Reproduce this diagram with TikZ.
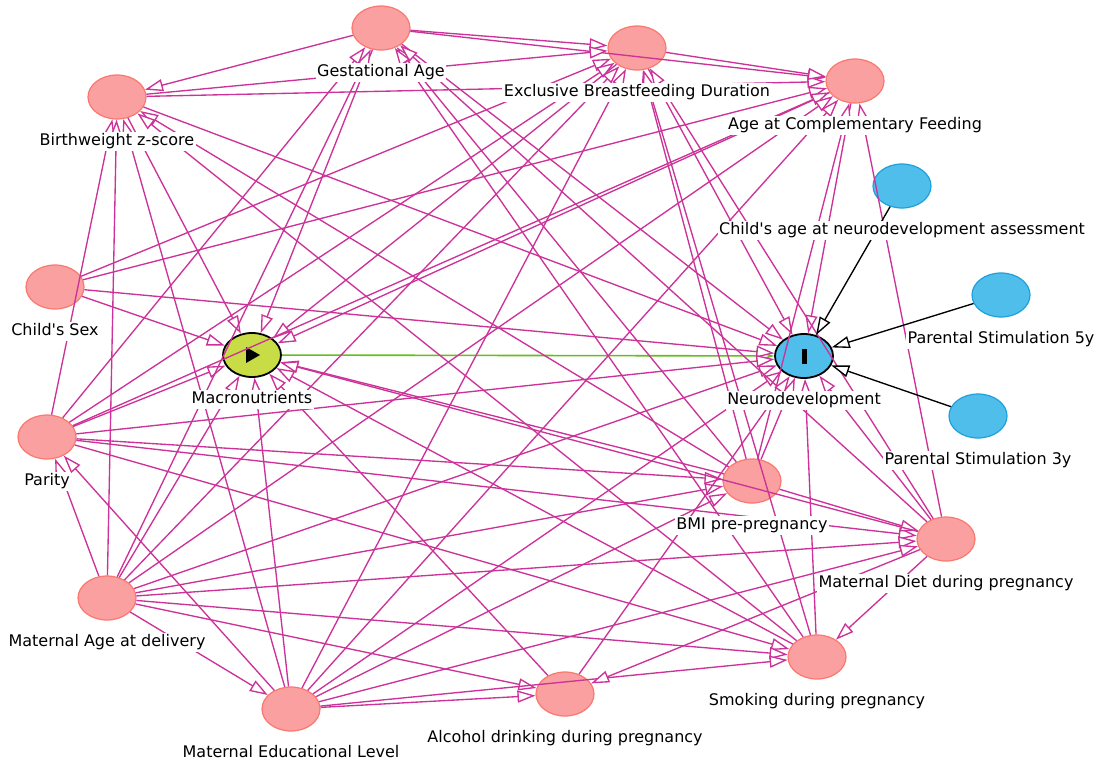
\documentclass[tikz,border=0pt]{standalone}
\usepackage{fontspec}
\newfontfamily\dagfont{DejaVu Sans}
\usetikzlibrary{positioning}
\usetikzlibrary{shapes.geometric}
\usetikzlibrary{arrows.meta}
\definecolor{pathpink}{RGB}{204,51,153}
\definecolor{ancfill}{RGB}{250,160,160}
\definecolor{ancdraw}{RGB}{250,120,110}
\definecolor{outfill}{RGB}{80,190,235}
\definecolor{outdraw}{RGB}{30,160,220}
\definecolor{expfill}{RGB}{200,220,70}
\definecolor{causgreen}{RGB}{100,190,30}
\begin{document}
\begin{tikzpicture}[x=1pt,y=-1pt]
		\tikzset{var/.style = {ellipse, draw=ancdraw, fill=ancfill, line width=1.2pt,
				minimum width=58pt, minimum height=44pt, inner sep=0pt},
			outvar/.style = {var, draw=outdraw, fill=outfill},
			key/.style = {var, draw=black, line width=1.8pt},
			edge/.style = {-{Triangle[length=18pt,width=12pt,fill=white]}, draw=pathpink, line width=1.35pt},
			tie/.style = {edge, draw=black},
			causal/.style = {edge, draw=causgreen, line width=1.6pt},
			lab/.style = {fill=white, inner sep=1.5pt, font=\dagfont\fontsize{16}{18}\selectfont,
				text height=12pt, text depth=3.5pt}}
		\useasboundingbox (0,0) rectangle (1098,763);
		\node[var] (GA) at (381,28) {};
		\node[var] (EBF) at (637,48) {};
		\node[var] (ACF) at (855,81) {};
		\node[var] (BW) at (117,97) {};
		\node[outvar] (CAGE) at (902,186) {};
		\node[var] (CS) at (55,287) {};
		\node[key, fill=expfill] (MAC) at (252,355) {};
		\node[key, fill=outfill] (NEU) at (804,356) {\rule{5pt}{15pt}};
		\node[outvar] (PS5) at (1001,295) {};
		\node[outvar] (PS3) at (978,416) {};
		\node[var] (PAR) at (47,437) {};
		\node[var] (BMI) at (752,481) {};
		\node[var] (DIET) at (946,539) {};
		\node[var] (MAGE) at (107,598) {};
		\node[var] (SMK) at (817,657) {};
		\node[var] (ALC) at (565,694) {};
		\node[var] (MEDU) at (291,709) {};
		\fill ([shift={(-6,-8)}]MAC.center) -- ([shift={(-6,8)}]MAC.center) -- ([shift={(8,0)}]MAC.center) -- cycle;
		% exposure to outcome
		\draw[causal] (MAC) edge (NEU);
		% biasing paths
		\draw[edge] (GA) edge (BW) edge (EBF) edge (ACF) edge (MAC) edge (NEU);
		\draw[edge] (BW) edge (EBF) edge (ACF) edge (MAC) edge (NEU);
		\draw[edge] (EBF) edge (ACF) edge (MAC) edge (NEU);
		\draw[edge] (ACF) edge (MAC) edge (NEU);
		\draw[edge] (CS) edge (EBF) edge (ACF) edge (MAC) edge (NEU);
		\draw[edge] (PAR) edge (BW) edge (GA) edge (EBF) edge (ACF) edge (MAC) edge (NEU)
			edge (BMI) edge (DIET) edge (SMK);
		\draw[edge] (MAGE) edge (PAR) edge (BW) edge (GA) edge (EBF) edge (ACF) edge (MAC)
			edge (NEU) edge (BMI) edge (DIET) edge (SMK) edge (ALC) edge (MEDU);
		\draw[edge] (MEDU) edge (PAR) edge (BW) edge (EBF) edge (ACF) edge (MAC) edge (NEU)
			edge (BMI) edge (DIET) edge (SMK) edge (ALC);
		\draw[edge] (BMI) edge (GA) edge (BW) edge (EBF) edge (ACF) edge (MAC) edge (NEU) edge (DIET);
		\draw[edge] (DIET) edge (GA) edge (EBF) edge (ACF) edge (MAC) edge (NEU) edge (SMK) edge (ALC);
		\draw[edge] (SMK) edge (GA) edge (BW) edge (EBF) edge (MAC) edge (NEU);
		\draw[edge] (ALC) edge (MAC) edge (NEU);
		% outcome ancestors
		\draw[tie] (CAGE) edge (NEU);
		\draw[tie] (PS5) edge (NEU);
		\draw[tie] (PS3) edge (NEU);
		% labels
		\node[lab, below=12.5pt of GA] (GAL) {Gestational Age};
		\node[lab, below=12.5pt of EBF] (EBFL) {Exclusive Breastfeeding Duration};
		\node[lab, below=12.5pt of ACF] (ACFL) {Age at Complementary Feeding};
		\node[lab, below=12.5pt of BW] (BWL) {Birthweight z-score};
		\node[lab, below=12.5pt of CAGE] (CAGEL) {Child's age at neurodevelopment assessment};
		\node[lab, below=12.5pt of CS] (CSL) {Child's Sex};
		\node[lab, below=12pt of MAC] (MACL) {Macronutrients};
		\node[lab, below=12pt of NEU] (NEUL) {Neurodevelopment};
		\node[lab, below=12.5pt of PS5] (PS5L) {Parental Stimulation 5y};
		\node[lab, below=12.5pt of PS3] (PS3L) {Parental Stimulation 3y};
		\node[lab, below=12.5pt of PAR] (PARL) {Parity};
		\node[lab, below=12.5pt of BMI] (BMIL) {BMI pre-pregnancy};
		\node[lab, below=12.5pt of DIET] (DIETL) {Maternal Diet during pregnancy};
		\node[lab, below=12.5pt of MAGE] (MAGEL) {Maternal Age at delivery};
		\node[lab, below=12.5pt of SMK] (SMKL) {Smoking during pregnancy};
		\node[lab, below=12.5pt of ALC] (ALCL) {Alcohol drinking during pregnancy};
		\node[lab, below=12.5pt of MEDU] (MEDUL) {Maternal Educational Level};
	\end{tikzpicture}
\end{document}
